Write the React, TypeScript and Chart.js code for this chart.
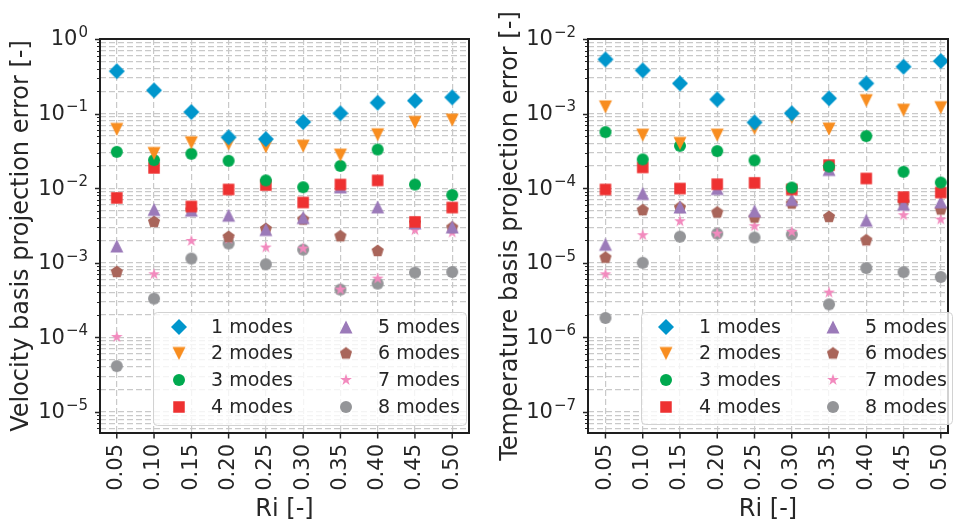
import React, { useEffect, useRef } from 'react';
import { Chart, registerables } from 'chart.js';

Chart.register(...registerables);

// ---------------- data ----------------
const riValues = [0.05, 0.1, 0.15, 0.2, 0.25, 0.3, 0.35, 0.4, 0.45, 0.5];
const seriesLabels = ['1 modes', '2 modes', '3 modes', '4 modes', '5 modes', '6 modes', '7 modes', '8 modes'];
const seriesColors = ['#0096cc', '#f88d1f', '#00a94f', '#ee3131', '#9b7ab9', '#a9655a', '#f28abe', '#949598'];
const seriesShapes = ['diamond', 'triangleDown', 'circle', 'square', 'triangleUp', 'pentagon', 'star', 'circle'];

const vel1 = [0.37, 0.205, 0.105, 0.048, 0.0455, 0.077, 0.101, 0.14, 0.149, 0.165];
const vel2 = [0.0614, 0.0292, 0.0406, 0.039, 0.0358, 0.0366, 0.0277, 0.052, 0.0762, 0.0818];
const vel3 = [0.0307, 0.0238, 0.0289, 0.0233, 0.0127, 0.0103, 0.0199, 0.033, 0.0112, 0.0081];
const vel4 = [0.0074, 0.0187, 0.00568, 0.0096, 0.011, 0.00643, 0.0112, 0.0127, 0.00353, 0.0055];
const vel5 = [0.00168, 0.00518, 0.00507, 0.00434, 0.00279, 0.00404, 0.0104, 0.00561, 0.00342, 0.00302];
const vel6 = [0.000753, 0.00353, 0.00507, 0.00222, 0.00284, 0.0038, 0.00227, 0.00144, 0.00342, 0.00297];
const vel7 = [0.000101, 0.000701, 0.00196, 0.00209, 0.0016, 0.00155, 0.000437, 0.000614, 0.00273, 0.00254];
const vel8 = [0.0000412, 0.000331, 0.00114, 0.00181, 0.000955, 0.0015, 0.000437, 0.000525, 0.000738, 0.000753];

const tmp1 = [0.00533, 0.0038, 0.00254, 0.00155, 0.000762, 0.00101, 0.0016, 0.00254, 0.00425, 0.00507];
const tmp2 = [0.00123, 0.000514, 0.000398, 0.000514, 0.000632, 0.000889, 0.00062, 0.00149, 0.00111, 0.0012];
const tmp3 = [0.000565, 0.000243, 0.00037, 0.000314, 0.000236, 0.000102, 0.000195, 0.000499, 0.000166, 0.000119];
const tmp4 = [0.000096, 0.00019, 0.000099, 0.000113, 0.000118, 0.000096, 0.000204, 0.000135, 0.000076, 0.0000875];
const tmp5 = [0.0000177, 0.000085, 0.000056, 0.000099, 0.0000496, 0.0000705, 0.000178, 0.0000372, 0.000061, 0.0000655];
const tmp6 = [0.0000117, 0.0000507, 0.000055, 0.0000472, 0.0000404, 0.0000622, 0.0000412, 0.00002, 0.0000643, 0.0000518];
const tmp7 = [0.000007, 0.0000234, 0.000036, 0.0000246, 0.0000309, 0.000026, 0.00000398, 0.0000196, 0.0000434, 0.000038];
const tmp8 = [0.00000182, 0.00001, 0.0000224, 0.0000246, 0.0000218, 0.0000239, 0.00000277, 0.0000085, 0.0000075, 0.00000645];

const velocitySeries = [vel1, vel2, vel3, vel4, vel5, vel6, vel7, vel8];
const temperatureSeries = [tmp1, tmp2, tmp3, tmp4, tmp5, tmp6, tmp7, tmp8];

const velocityExponents = [0, -1, -2, -3, -4, -5];
const temperatureExponents = [-2, -3, -4, -5, -6, -7];

// ---------------- styling ----------------
const FONT = "'DejaVu Sans', 'Liberation Sans', sans-serif";
const TEXT = '#262626';
const GRID = '#c9c9c9';

function makeMarker(shape: string, color: string): HTMLCanvasElement {
  const size = 20;
  const c = document.createElement('canvas');
  c.width = size;
  c.height = size;
  const ctx = c.getContext('2d')!;
  const m = size / 2;
  ctx.fillStyle = color;
  ctx.beginPath();
  if (shape === 'diamond') {
    const r = 8;
    ctx.moveTo(m, m - r);
    ctx.lineTo(m + r, m);
    ctx.lineTo(m, m + r);
    ctx.lineTo(m - r, m);
  } else if (shape === 'triangleDown') {
    const h = 6.5;
    ctx.moveTo(m - h, m - h);
    ctx.lineTo(m + h, m - h);
    ctx.lineTo(m, m + h);
  } else if (shape === 'triangleUp') {
    const h = 6.5;
    ctx.moveTo(m, m - h);
    ctx.lineTo(m + h, m + h);
    ctx.lineTo(m - h, m + h);
  } else if (shape === 'circle') {
    ctx.arc(m, m, 6, 0, Math.PI * 2);
  } else if (shape === 'square') {
    const h = 5.75;
    ctx.rect(m - h, m - h, 2 * h, 2 * h);
  } else if (shape === 'pentagon') {
    const r = 6.4;
    for (let i = 0; i < 5; i++) {
      const a = -Math.PI / 2 + (i * 2 * Math.PI) / 5;
      const px = m + r * Math.cos(a);
      const py = m + r * Math.sin(a);
      if (i === 0) ctx.moveTo(px, py);
      else ctx.lineTo(px, py);
    }
  } else if (shape === 'star') {
    const r = 6.2;
    const ri = r * 0.382;
    for (let i = 0; i < 10; i++) {
      const a = -Math.PI / 2 + (i * Math.PI) / 5;
      const rr = i % 2 === 0 ? r : ri;
      const px = m + rr * Math.cos(a);
      const py = m + rr * Math.sin(a);
      if (i === 0) ctx.moveTo(px, py);
      else ctx.lineTo(px, py);
    }
  }
  ctx.closePath();
  ctx.fill();
  return c;
}

type PanelSpec = {
  series: number[][];
  title: string;
  yMin: number;
  yMax: number;
  exponents: number[];
  xMin: number;
  xMax: number;
  canvasLeft: number;
  canvasWidth: number;
  axisWidth: number;
  padRight: number;
  titlePad: number;
  legendBox: { x: number; y: number; w: number; h: number };
  legendCols: { marker: number; text: number }[];
  legendRows: number[];
};

const velocityPanel: PanelSpec = {
  series: velocitySeries,
  title: 'Velocity basis projection error [-]',
  yMin: 5.22e-6,
  yMax: 1,
  exponents: velocityExponents,
  xMin: 0.0275,
  xMax: 0.5225,
  canvasLeft: 0,
  canvasWidth: 478,
  axisWidth: 100,
  padRight: 3,
  titlePad: 7.5,
  legendBox: { x: 153, y: 312, w: 313, h: 113 },
  legendCols: [
    { marker: 179, text: 211 },
    { marker: 346, text: 378 },
  ],
  legendRows: [327, 353.5, 380, 407],
};

const temperaturePanel: PanelSpec = {
  series: temperatureSeries,
  title: 'Temperature basis projection error [-]',
  yMin: 5.22e-8,
  yMax: 1e-2,
  exponents: temperatureExponents,
  xMin: 0.02657,
  xMax: 0.50966,
  canvasLeft: 478,
  canvasWidth: 479,
  axisWidth: 110,
  padRight: 4,
  titlePad: 18,
  legendBox: { x: 641, y: 312, w: 311, h: 112 },
  legendCols: [
    { marker: 666, text: 699 },
    { marker: 833, text: 865 },
  ],
  legendRows: [327, 353.5, 380, 407],
};

function logTicks(min: number, max: number) {
  const out: { value: number; major: boolean }[] = [];
  const e0 = Math.floor(Math.log10(min));
  const e1 = Math.ceil(Math.log10(max));
  for (let e = e0; e <= e1; e++) {
    for (let k = 1; k <= 9; k++) {
      const v = k * Math.pow(10, e);
      if (v >= min * 0.9999 && v <= max * 1.0001) out.push({ value: v, major: k === 1 });
    }
  }
  return out;
}

function framePlugin(p: PanelSpec, markers: HTMLCanvasElement[]) {
  return {
    id: 'frame',
    afterDraw(chart: any) {
      const { ctx, chartArea: a } = chart;
      const xs = chart.scales.x;
      const ys = chart.scales.y;
      ctx.save();
      // tick marks
      ctx.strokeStyle = TEXT;
      for (const t of ys.ticks) {
        const py = Math.round(ys.getPixelForValue(t.value)) + 0.5;
        ctx.lineWidth = t.major ? 1.5 : 1;
        ctx.beginPath();
        ctx.moveTo(a.left - (t.major ? 5 : 3), py);
        ctx.lineTo(a.left, py);
        ctx.stroke();
      }
      for (const t of xs.ticks) {
        const px = xs.getPixelForValue(t.value);
        ctx.lineWidth = 1.5;
        ctx.beginPath();
        ctx.moveTo(px, a.bottom);
        ctx.lineTo(px, a.bottom + 5.5);
        ctx.stroke();
      }
      // spines
      ctx.lineWidth = 2;
      ctx.strokeStyle = '#1e1e1e';
      ctx.strokeRect(a.left, a.top, a.right - a.left, a.bottom - a.top);

      // y tick labels with superscript exponents
      ctx.fillStyle = TEXT;
      ctx.textBaseline = 'middle';
      ctx.textAlign = 'left';
      const right = a.left - 12;
      for (const e of p.exponents) {
        const py = ys.getPixelForValue(Math.pow(10, e));
        const sup = e === 0 ? '0' : e < 0 ? '\u2212' + String(-e) : String(e);
        ctx.font = `15px ${FONT}`;
        const supW = ctx.measureText(sup).width;
        ctx.font = `21px ${FONT}`;
        const baseW = ctx.measureText('10').width;
        const x0 = right - supW - baseW - 1;
        ctx.fillText('10', x0, py + 1);
        ctx.font = `15px ${FONT}`;
        ctx.fillText(sup, x0 + baseW + 1, py - 6);
      }

      // legend
      const off = p.canvasLeft;
      const b = p.legendBox;
      const r = 4;
      const bx = b.x - off + 0.5;
      const by = b.y + 0.5;
      ctx.beginPath();
      ctx.moveTo(bx + r, by);
      ctx.lineTo(bx + b.w - r, by);
      ctx.arcTo(bx + b.w, by, bx + b.w, by + r, r);
      ctx.lineTo(bx + b.w, by + b.h - r);
      ctx.arcTo(bx + b.w, by + b.h, bx + b.w - r, by + b.h, r);
      ctx.lineTo(bx + r, by + b.h);
      ctx.arcTo(bx, by + b.h, bx, by + b.h - r, r);
      ctx.lineTo(bx, by + r);
      ctx.arcTo(bx, by, bx + r, by, r);
      ctx.closePath();
      ctx.fillStyle = 'rgba(255,255,255,0.8)';
      ctx.fill();
      ctx.lineWidth = 1;
      ctx.strokeStyle = '#d2d2d2';
      ctx.stroke();

      ctx.font = `19px ${FONT}`;
      ctx.fillStyle = TEXT;
      ctx.textBaseline = 'middle';
      ctx.textAlign = 'left';
      seriesLabels.forEach((lab, i) => {
        const col = p.legendCols[Math.floor(i / 4)];
        const row = p.legendRows[i % 4];
        const mk = markers[i];
        ctx.drawImage(mk, col.marker - off - mk.width / 2, row - mk.height / 2);
        ctx.fillText(lab, col.text - off, row + 1);
      });
      ctx.restore();
    },
  };
}

function Panel({ spec }: { spec: PanelSpec }) {
  const ref = useRef<HTMLCanvasElement | null>(null);
  useEffect(() => {
    const canvas = ref.current!;
    const markers = seriesShapes.map((s, i) => makeMarker(s, seriesColors[i]));
    const datasets = spec.series.map((vals, i) => ({
      label: seriesLabels[i],
      data: riValues.map((x, j) => ({ x, y: vals[j] })),
      pointStyle: markers[i],
      pointRadius: 8,
      pointHoverRadius: 8,
      showLine: false,
      backgroundColor: seriesColors[i],
      borderColor: seriesColors[i],
    }));
    const chart = new Chart(canvas, {
      type: 'scatter',
      data: { datasets },
      options: {
        responsive: false,
        animation: false,
        devicePixelRatio: 1,
        events: [],
        layout: { padding: { top: 39, right: spec.padRight, left: 0, bottom: 0 } },
        plugins: { legend: { display: false }, tooltip: { enabled: false } },
        scales: {
          x: {
            type: 'linear',
            min: spec.xMin,
            max: spec.xMax,
            afterBuildTicks: (s: any) => {
              s.ticks = riValues.map((v) => ({ value: v }));
            },
            afterFit: (s: any) => {
              s.height = 92;
              s.paddingLeft = 0;
              s.paddingRight = 0;
            },
            grid: { color: GRID, lineWidth: 1.2, drawTicks: false },
            border: { display: false, dash: [6, 3] },
            ticks: {
              autoSkip: false,
              minRotation: 90,
              maxRotation: 90,
              padding: 11,
              color: TEXT,
              font: { family: FONT, size: 21 },
              callback: (v: any) => Number(v).toFixed(2),
            },
            title: {
              display: true,
              text: 'Ri [-]',
              color: TEXT,
              font: { family: FONT, size: 24 },
              padding: { top: 0, bottom: 1 },
            },
          },
          y: {
            type: 'logarithmic',
            min: spec.yMin,
            max: spec.yMax,
            bounds: 'data',
            afterBuildTicks: (s: any) => {
              s.ticks = logTicks(spec.yMin, spec.yMax);
            },
            afterFit: (s: any) => {
              s.width = spec.axisWidth;
              s.paddingTop = 0;
              s.paddingBottom = 0;
            },
            grid: { color: GRID, lineWidth: 1.2, drawTicks: false },
            border: { display: false, dash: [6, 3] },
            ticks: { display: false },
            title: {
              display: true,
              text: spec.title,
              color: TEXT,
              font: { family: FONT, size: 24 },
              padding: { top: spec.titlePad, bottom: 0 },
            },
          },
        },
      } as any,
      plugins: [framePlugin(spec, markers)],
    });
    return () => chart.destroy();
  }, [spec]);
  return (
    <canvas
      ref={ref}
      width={spec.canvasWidth}
      height={525}
      style={{ position: 'absolute', left: spec.canvasLeft, top: 0, width: spec.canvasWidth, height: 525, display: 'block' }}
    />
  );
}

export default function App() {
  return (
    <div style={{ position: 'absolute', left: 0, top: 0, width: 957, height: 525, background: '#ffffff', overflow: 'hidden' }}>
      <Panel spec={velocityPanel} />
      <Panel spec={temperaturePanel} />
    </div>
  );
}
